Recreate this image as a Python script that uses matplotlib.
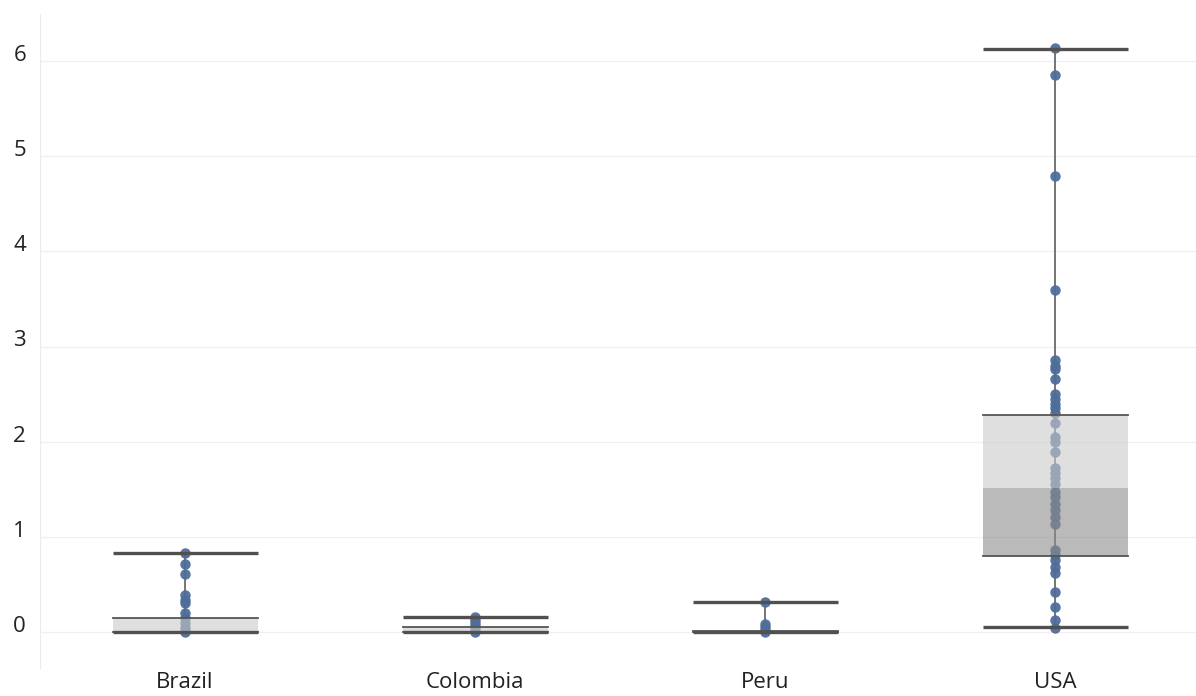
import numpy as np
import matplotlib.pyplot as plt
from matplotlib.transforms import ScaledTranslation

plt.rcParams['font.family'] = ['Open Sans', 'DejaVu Sans']

countries = ['Brazil', 'Colombia', 'Peru', 'USA']

brazil_pts = [0.83, 0.72, 0.61, 0.39, 0.34, 0.30, 0.20, 0.15, 0.09, 0.04, 0.0]
colombia_pts = [0.16, 0.13, 0.10, 0.06, 0.03, 0.0]
peru_pts = [0.32, 0.08, 0.05, 0.02, 0.0]
usa_pts = [6.14, 5.85, 4.79, 3.59, 2.86, 2.80, 2.76, 2.66, 2.50, 2.45, 2.40,
           2.35, 2.30, 2.20, 2.05, 2.00, 1.89, 1.72, 1.67, 1.62, 1.56, 1.47,
           1.42, 1.35, 1.28, 1.21, 1.14, 0.86, 0.81, 0.76, 0.68, 0.62, 0.42,
           0.26, 0.13, 0.04]
points = [brazil_pts, colombia_pts, peru_pts, usa_pts]

# box stats as shown (Tableau quartiles)
whisker_lo = [0.0, 0.0, 0.0, 0.05]
q1 = [0.0, 0.0, 0.0, 0.80]
median = [0.0, 0.0, 0.0, 1.51]
q3 = [0.15, 0.05, 0.01, 2.28]
whisker_hi = [0.83, 0.16, 0.32, 6.13]

fig = plt.figure(figsize=(11.96, 6.96), dpi=100)
ax = fig.add_axes([40 / 1196, 28 / 696, 1 - 40 / 1196, 654 / 696])

box_w = 0.5
line_c = '#505050'
for i, pts in enumerate(points):
    ax.plot([i, i], [whisker_lo[i], whisker_hi[i]], color=line_c, lw=1.1, zorder=1)
    ax.plot(np.full(len(pts), i), pts, 'o', color='#4E6E99', ms=7.5,
            mec='none', alpha=0.95, zorder=2)
    # lower part (q1-median) and upper part (median-q3)
    ax.bar(i, median[i] - q1[i], bottom=q1[i], width=box_w, color='#8F8C8C',
           alpha=0.6, zorder=3, linewidth=0)
    ax.bar(i, q3[i] - median[i], bottom=median[i], width=box_w, color='#CACACA',
           alpha=0.6, zorder=3, linewidth=0)
    for v in (q1[i], q3[i]):
        ax.plot([i - box_w / 2, i + box_w / 2], [v, v], color='#555555', lw=1.3, zorder=4)
    for v in (whisker_lo[i], whisker_hi[i]):
        ax.plot([i - box_w / 2, i + box_w / 2], [v, v], color=line_c, lw=2.4,
                solid_capstyle='butt', zorder=4)

ax.set_xlim(-0.5, 3.486)
ax.set_ylim(-0.378, 6.494)
ax.set_yticks(range(0, 7))
ax.set_xticks(range(len(countries)))
ax.set_xticklabels(countries)
ax.tick_params(axis='both', length=0, labelsize=16, colors='#222222')
ax.tick_params(axis='y', pad=10)
ax.tick_params(axis='x', pad=3)
shift = ScaledTranslation(0, 4 / 72, fig.dpi_scale_trans)
for lbl in ax.get_yticklabels():
    lbl.set_verticalalignment('center')
    lbl.set_transform(lbl.get_transform() + shift)
ax.grid(axis='y', color='#F0F0F0', lw=1)
ax.set_axisbelow(True)
for s in ('top', 'right', 'bottom'):
    ax.spines[s].set_visible(False)
ax.spines['left'].set_color('#EBEBEB')

fig.savefig('out.png', dpi=100)
